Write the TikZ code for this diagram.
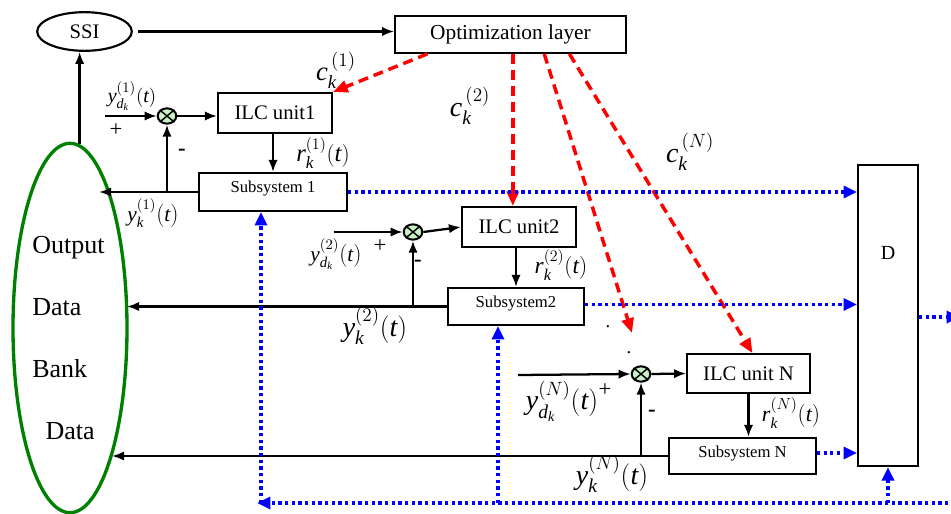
\documentclass[tikz,border=0pt]{standalone}
\usepackage{amsmath}
\usepackage{fontspec}
\setmainfont{Liberation Serif}
\usetikzlibrary{arrows.meta,shapes.geometric,calc}
\newcommand{\vi}[1]{\textit{#1}}
\newcommand{\fs}[1]{\fontsize{#1}{#1}\selectfont}
\definecolor{sumfill}{RGB}{200,240,200}
\definecolor{bankgreen}{RGB}{0,128,0}
\tikzset{
  boxnode/.style={draw,line width=1.6pt,rectangle,inner sep=0pt},
  sumnode/.style={draw,line width=1.5pt,ellipse,fill=sumfill,minimum width=14pt,minimum height=11.5pt,inner sep=0pt},
  arr/.style={line width=1.7pt,-{Latex[length=9pt,width=7pt]}},
  reddash/.style={draw=red,line width=2.6pt,dash pattern=on 7.5pt off 4.5pt,-{Triangle[length=11pt,width=9pt,fill=red]}},
  bluedot/.style={draw=blue,line width=2.6pt,dash pattern=on 2.4pt off 2.6pt,-{Triangle[length=10pt,width=9pt,fill=blue]}},
  lab/.style={inner sep=0pt},
  sign/.style={inner sep=0pt,font=\fs{17pt}},
}
\begin{document}
\begin{tikzpicture}[x=0.75pt,y=-0.75pt]
\useasboundingbox (0,0) rectangle (951,514);

% main nodes
\node[draw,line width=1.6pt,ellipse,minimum width=71pt,minimum height=29pt,inner sep=0pt,font=\fs{15.5pt}] (ssi) at (84.5,31.5) {SSI};
\node[boxnode,minimum width=173pt,minimum height=27.5pt,font=\fs{16pt}] (opt) at (510.5,34.5) {Optimization layer};
\node[draw=bankgreen,line width=2.5pt,ellipse,minimum width=85.5pt,minimum height=277pt,inner sep=0pt] (bank) at (70,328) {};
\node[lab,font=\fs{19.5pt},align=left,anchor=north west] (banktext) at (32,236) {Output\\[27pt]Data\\[27pt]Bank\\[27pt]\hspace{10pt}Data};

\node[boxnode,minimum width=85.5pt,minimum height=30pt,font=\fs{15.5pt}] (ilc1) at (275,113) {ILC unit1};
\node[boxnode,minimum width=111pt,minimum height=28.5pt,font=\fs{12.5pt},text depth=8pt] (sub1) at (273,192) {Subsystem 1};
\node[sumnode] (sum1) at (167,116) {};

\node[boxnode,minimum width=85.5pt,minimum height=30pt,font=\fs{15.5pt}] (ilc2) at (519,227) {ILC unit2};
\node[boxnode,minimum width=102pt,minimum height=27.75pt,font=\fs{12.5pt},text depth=7pt] (sub2) at (516,306.5) {Subsystem2};
\node[sumnode] (sum2) at (413,232) {};

\node[boxnode,minimum width=92pt,minimum height=29pt,font=\fs{15.5pt}] (ilcN) at (748.5,373.5) {ILC unit N};
\node[boxnode,minimum width=110pt,minimum height=27pt,font=\fs{12.5pt},text depth=7pt] (subN) at (742.5,456) {Subsystem N};
\node[sumnode] (sumN) at (641,374) {};

\node[boxnode,minimum width=45pt,minimum height=226pt,label={[font=\fs{15pt},yshift=47pt]center:D}] (D) at (888,315.5) {};

% crosses in summing junctions
\foreach \s in {sum1,sum2,sumN}{
  \draw[line width=1.1pt] (\s.north west) -- (\s.south east);
  \draw[line width=1.1pt] (\s.north east) -- (\s.south west);
}

% SSI connections
\draw[arr] (ssi.east) ++(5,0) coordinate (ssiout) -- (ssiout -| opt.west);
\draw[arr] (bank.87) -- (bank.87 |- ssi.south);

% loop 1
\coordinate (in1) at (105,116);
\draw[arr] (in1) -- (sum1.west);
\draw[arr] (sum1.east) -- (sum1.east -| ilc1.west);
\draw[arr] (ilc1.south -| sub1.north) -- (sub1.north);
\coordinate (o1) at (99,192);
\draw[arr] (sub1.west) -- (o1);
\draw[arr] (sub1.west -| sum1.south) -- (sum1.south);

% loop 2
\coordinate (in2) at (334,232);
\draw[arr] (in2) -- (sum2.west);
\draw[arr] (sum2.east) -- (ilc2.west);
\draw[arr] (sub2.north |- ilc2.south) -- (sub2.north);
\coordinate (o2) at (127,306.5);
\draw[arr] (sub2.west) -- (o2);
\draw[arr] (sub2.west -| sum2.south) -- (sum2.south);

% loop N
\coordinate (inN) at (518,375);
\draw[arr] (inN) -- (sumN.west);
\draw[arr] (sumN.east) -- (ilcN.west);
\draw[arr] (ilcN.south) -- (ilcN.south |- subN.north);
\coordinate (oN) at (112,456);
\draw[arr] (subN.west) -- (oN);
\draw[arr] (subN.west -| sumN.south) -- (sumN.south);

% red dashed from optimization layer
\coordinate (r1s) at ($(opt.south west)!0.143!(opt.south east)$);
\coordinate (r2s) at ($(opt.south west)!0.51!(opt.south east)$);
\coordinate (r3s) at ($(opt.south west)!0.645!(opt.south east)$);
\coordinate (r4s) at ($(opt.south west)!0.753!(opt.south east)$);
\coordinate (r3e) at (632,333);
\draw[reddash] (r1s) -- (ilc1.north east);
\draw[reddash] (r2s) -- (r2s |- ilc2.north);
\draw[reddash] (r3s) -- (r3e);
\draw[reddash] (r4s) -- ($(ilcN.north)+(4,0)$);

% blue dotted to D
\draw[bluedot] (sub1.east) -- (sub1.east -| D.west);
\draw[bluedot] ($(sub2.east)+(0,-2)$) coordinate (b2) -- (b2 -| D.west);
\draw[bluedot] ($(subN.east)+(0,-3)$) coordinate (b3) -- (b3 -| D.west);
\coordinate (dout) at (960,317);
\draw[bluedot] (D.east |- dout) -- (dout);
\coordinate (busR) at (955,503);
\coordinate (busL) at (257,503);
\draw[bluedot] (busR) -- (busL);
\coordinate (v1) at (261,503);
\coordinate (v2) at (498,503);
\draw[bluedot] (v1) -- (v1 |- sub1.south);
\draw[bluedot] (v2) -- (v2 |- sub2.south);
\draw[bluedot] (D.south |- busR) -- (D.south);

% dots
\node[lab,anchor=base,font=\fs{14pt}] (dot1) at (608,327) {.};
\node[lab,anchor=base,font=\fs{14pt}] (dot2) at (629,353) {.};

% labels loop 1
\node[lab,font=\fs{15pt}] (lyd1) at (132,96) {$\vi{y}^{(1)}_{\vi{d}_{\vi{k}}}(\vi{t})$};
\node[sign] (p1) at (116,130) {+};
\node[sign,font=\fs{17pt}\bfseries] (m1) at (182,152) {-};
\node[lab,font=\fs{18.5pt}] (lr1) at (323,153) {$\vi{r}^{(1)}_{\vi{k}}(\vi{t})$};
\node[lab,font=\fs{16pt}] (ly1) at (153,213) {$\vi{y}^{(1)}_{\vi{k}}(\vi{t})$};
\node[lab,font=\fs{20pt}] (lc1) at (336,70) {$\vi{c}^{\,(1)}_{\vi{k}}$};

% labels loop 2
\node[lab,font=\fs{21pt}] (lc2) at (470,106) {$\vi{c}^{\,(2)}_{\vi{k}}$};
\node[lab,font=\fs{16pt}] (lyd2) at (336,254) {$\vi{y}^{(2)}_{\vi{d}_{\vi{k}}}(\vi{t})$};
\node[sign] (p2) at (380,246) {+};
\node[sign,font=\fs{17pt}\bfseries] (m2) at (418,263) {-};
\node[lab,font=\fs{17.5pt}] (lr2) at (561,265) {$\vi{r}^{(2)}_{\vi{k}}(\vi{t})$};
\node[lab,font=\fs{21pt}] (ly2) at (375,326) {$\vi{y}^{(2)}_{\vi{k}}(\vi{t})$};

% labels loop N
\node[lab,font=\fs{21pt}] (lcN) at (690,152) {$\vi{c}^{\,(N)}_{\vi{k}}$};
\node[lab,font=\fs{21pt}] (lydN) at (562,401) {$\vi{y}^{(N)}_{\vi{d}_{\vi{k}}}(\vi{t})$};
\node[sign] (pN) at (605,390) {+};
\node[sign,font=\fs{17pt}\bfseries] (mN) at (652,413) {-};
\node[lab,font=\fs{16.5pt}] (lrN) at (791,413) {$\vi{r}^{(N)}_{\vi{k}}(\vi{t})$};
\node[lab,font=\fs{21pt}] (lyN) at (612,474) {$\vi{y}^{(N)}_{\vi{k}}(\vi{t})$};
\end{tikzpicture}
\end{document}
